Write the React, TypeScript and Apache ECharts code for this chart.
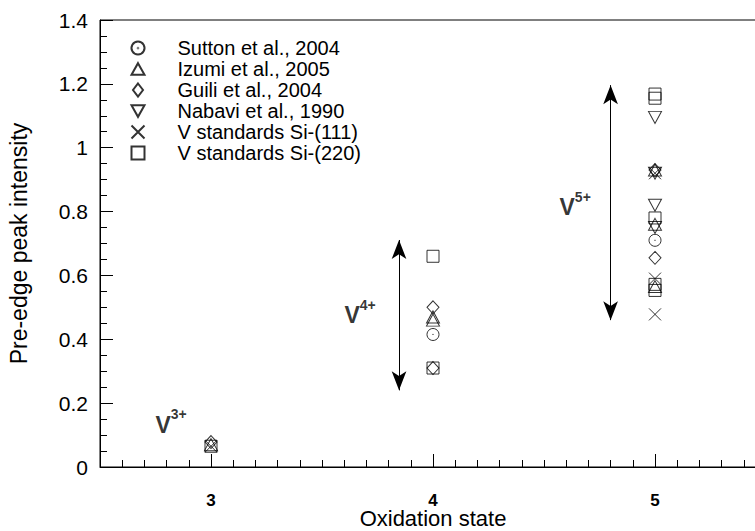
import React, { useEffect, useRef } from "react";
import * as echarts from "echarts";

// ---- data ----
const seriesNames = [
  "Sutton et al., 2004",
  "Izumi et al., 2005",
  "Guili et al., 2004",
  "Nabavi et al., 1990",
  "V standards Si-(111)",
  "V standards Si-(220)",
];
const sutton = [[4, 0.415], [5, 0.71]];
const izumi = [[3, 0.07], [4, 0.47], [4, 0.46], [5, 0.93], [5, 0.76], [5, 0.565]];
const guili = [[3, 0.078], [4, 0.5], [4, 0.31], [5, 0.93], [5, 0.655]];
const nabavi = [[5, 1.095], [5, 0.92], [5, 0.82], [5, 0.75]];
const si111 = [[3, 0.065], [5, 0.92], [5, 0.59], [5, 0.478]];
const si220 = [[3, 0.065], [4, 0.66], [4, 0.31], [5, 1.168], [5, 1.155], [5, 0.78], [5, 0.572], [5, 0.553]];
const xLabels = [3, 4, 5];
const annotations = [
  { x: 2.75, y: 0.097, ox: "3+" },
  { x: 3.601, y: 0.44, ox: "4+" },
  { x: 4.57, y: 0.777, ox: "5+" },
];
const arrows = [
  { x: 3.847, from: 0.711, to: 0.24 },
  { x: 4.8, from: 1.196, to: 0.46 },
];

const FONT = "'Liberation Sans', Arial, sans-serif";

const symbols = [
  "path://M10,0 A10,10 0 1,1 9.99,0 Z M10,9.6 A0.4,0.4 0 1,1 9.99,9.6 Z",
  "path://M5,0 L10,9 L0,9 Z",
  "path://M5,0 L10,6.5 L5,13 L0,6.5 Z",
  "path://M0,0 L10,0 L5,9 Z",
  "path://M0,0 L10,10 M10,0 L0,10",
  "path://M0,0 L10,0 L10,10 L0,10 Z",
];
const sizes: any[] = [[12, 12], [13, 12], [12, 13], [13, 12], [12, 12], [12, 12]];
const dataSets = [sutton, izumi, guili, nabavi, si111, si220];

export default function App() {
  const ref = useRef<HTMLDivElement>(null);
  useEffect(() => {
    if (!ref.current) return;
    const chart = echarts.init(ref.current, null, { renderer: "svg" });
    const scatter = dataSets.map((d, i) => ({
      name: seriesNames[i],
      type: "scatter",
      data: d,
      symbol: symbols[i],
      symbolSize: sizes[i],
      itemStyle: { color: "none", borderColor: "#000", borderWidth: 1 },
      emphasis: { disabled: true },
      z: 3,
    }));
    chart.setOption({
      animation: false,
      backgroundColor: "#fff",
      textStyle: { fontFamily: FONT },
      grid: {
        left: 100,
        top: 20,
        right: -11,
        bottom: 64,
        show: true,
        borderColor: "#000",
        borderWidth: 1,
        containLabel: false,
        outerBoundsMode: "none",
      },
      legend: {
        data: seriesNames,
        orient: "vertical",
        left: 124,
        top: 33,
        itemWidth: 13,
        itemHeight: 13,
        itemGap: 1,
        textStyle: { fontSize: 20, color: "#000", fontFamily: FONT, lineHeight: 20, padding: [0, 0, 0, 28] },
        selectedMode: false,
      },
      xAxis: [
        {
          type: "value",
          min: 2.5,
          max: 5.5,
          interval: 0.1,
          axisLine: { show: true, lineStyle: { color: "#000", width: 1 } },
          axisTick: { show: true, inside: true, length: 7, lineStyle: { color: "#000" } },
          axisLabel: { show: false },
          splitLine: { show: false },
        },
        {
          type: "value",
          position: "bottom",
          min: 2.5,
          max: 5.5,
          interval: 0.5,
          axisLine: { show: false },
          axisTick: { show: true, inside: true, length: 13, customValues: xLabels, lineStyle: { color: "#000" } },
          axisLabel: {
            show: true,
            customValues: xLabels,
            fontSize: 17,
            lineHeight: 16,
            fontWeight: "bold",
            color: "#000",
            margin: 25,
            fontFamily: FONT,
          },
          splitLine: { show: false },
          name: "Oxidation state",
          nameLocation: "middle",
          nameGap: 41,
          nameMoveOverlap: false,
          nameTextStyle: { fontSize: 22, lineHeight: 20, color: "#000", fontFamily: FONT },
        },
      ],
      yAxis: {
        type: "value",
        min: 0,
        max: 1.4,
        interval: 0.2,
        axisLine: { show: true, lineStyle: { color: "#000", width: 1 } },
        axisTick: { show: true, inside: true, length: 13, lineStyle: { color: "#000" } },
        minorTick: { show: true, splitNumber: 4, length: 7, lineStyle: { color: "#000" } },
        axisLabel: {
          fontSize: 21,
          color: "#000",
          margin: 12,
          fontFamily: FONT,
          formatter: (v: number) => String(Math.round(v * 10) / 10),
        },
        splitLine: { show: false },
        name: "Pre-edge peak intensity",
        nameLocation: "middle",
        nameGap: 70,
        nameMoveOverlap: false,
        nameTextStyle: { fontSize: 23, color: "#000", fontFamily: FONT },
      },
      series: [
        ...scatter,
        {
          name: "annot",
          type: "scatter",
          data: annotations.map((a) => ({ value: [a.x, a.y], ox: a.ox })),
          symbolSize: 0,
          silent: true,
          label: {
            show: true,
            position: [0, 0],
            align: "left",
            verticalAlign: "bottom",
            formatter: (p: any) => `{v|V}{s|${p.data.ox}}`,
            rich: {
              v: { fontSize: 23, fontWeight: "bold", color: "#000", fontFamily: FONT, padding: [6, 0, 0, 0] },
              s: { fontSize: 14, fontWeight: "bold", color: "#000", fontFamily: FONT, verticalAlign: "top" },
            },
          },
          markLine: {
            silent: true,
            symbol: ["arrow", "arrow"],
            symbolSize: [11, 19],
            lineStyle: { color: "#000", width: 1, type: "solid" },
            itemStyle: { color: "#000" },
            label: { show: false },
            emphasis: { disabled: true },
            data: arrows.map((a) => [{ coord: [a.x, a.from] }, { coord: [a.x, a.to] }]),
          },
        },
      ],
    });
    return () => chart.dispose();
  }, []);
  return <div ref={ref} style={{ position: "absolute", left: 0, top: 0, width: 755, height: 531 }} />;
}
